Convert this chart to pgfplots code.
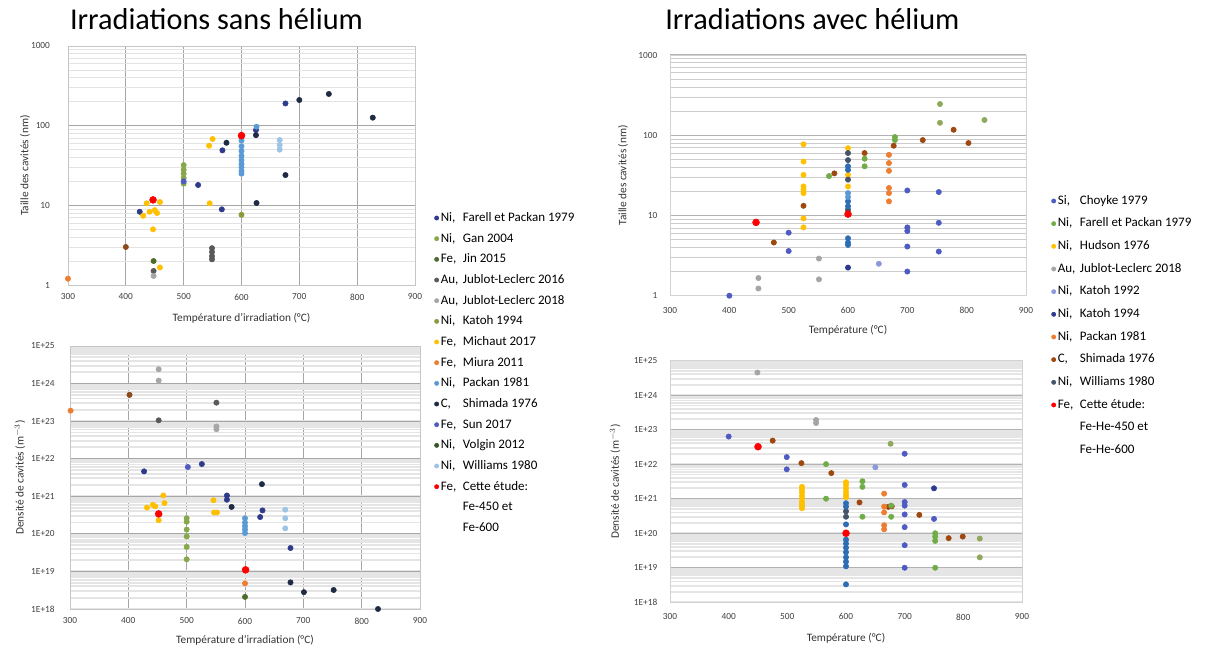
\documentclass[border=0pt]{standalone}
\usepackage{pgfplots}
\pgfplotsset{compat=1.18}
\usepackage{fontspec}
\setmainfont{Carlito}

% left panels
\definecolor{lFarell}{HTML}{2F3A8A}
\definecolor{lGan}{HTML}{86A84A}
\definecolor{lJin}{HTML}{4E6B2A}
\definecolor{lJubA}{HTML}{595959}
\definecolor{lJubB}{HTML}{A6A6A6}
\definecolor{lKatoh}{HTML}{8C9A3C}
\definecolor{lMichaut}{HTML}{FFC000}
\definecolor{lMiura}{HTML}{ED7D31}
\definecolor{lPackan}{HTML}{5B9BD5}
\definecolor{lShimada}{HTML}{1F2A44}
\definecolor{lSun}{HTML}{4F5BC0}
\definecolor{lVolgin}{HTML}{375623}
\definecolor{lWilliams}{HTML}{9DC3E6}
\definecolor{cRed}{HTML}{FF0000}
\definecolor{brn}{HTML}{8B4A1C}
% right panels
\definecolor{rChoyke}{HTML}{4E5BC2}
\definecolor{rFarell}{HTML}{70AD47}
\definecolor{rOlive}{HTML}{8FA85C}
\definecolor{rHudson}{HTML}{FFC000}
\definecolor{rJub}{HTML}{A5A5A5}
\definecolor{rKatohA}{HTML}{8E98DC}
\definecolor{rKatohB}{HTML}{2B3990}
\definecolor{rPackan}{HTML}{ED7D31}
\definecolor{rShimada}{HTML}{9E480E}
\definecolor{rWilliams}{HTML}{44546A}
\definecolor{rBlue}{HTML}{2E6DB4}
\definecolor{rLBlue}{HTML}{5B9BD5}

\newcommand\el[1]{\makebox[1.7em][l]{#1}}
\newcommand\tickfont{\fontsize{7}{8}\selectfont}
\newcommand\labfont{\fontsize{8.5}{10}\selectfont}

\pgfplotsset{
  pt/.style={only marks, mark=*, mark size=2pt, color=#1, forget plot},
  lg/.style={only marks, mark=*, mark size=1.6pt, color=#1},
}

\begin{document}
\begin{tikzpicture}
\useasboundingbox (0,0) rectangle (907.5pt,487.5pt);

% ---------- sans helium, taille ----------
\begin{axis}[at={(51pt,273.75pt)}, anchor=south west, scale only axis, clip=false,
  width=260.25pt, height=179.25pt, ymode=log,
  xmin=300, xmax=900, xtick={300,400,...,900},
  ymin=1, ymax=1000, ytick={1,10,100,1000}, yticklabels={1,10,100,1000},
  tick style={draw=none},
  ticklabel style={font=\tickfont, text=black!75},
  /pgf/number format/assume math mode=true,
  label style={font=\labfont, text=black!80},
  axis line style={gray!45},
  xmajorgrids, ymajorgrids, yminorgrids,
  major grid style={gray!70, line width=0.7pt},
  minor grid style={gray!22, line width=0.6pt},
  xlabel={Température d'irradiation (°C)},
  ylabel={Taille des cavités (nm)},
  xlabel style={at={(axis description cs:0.5,-0.138)}, anchor=center},
  ylabel style={at={(axis description cs:-0.124,0.5)}, anchor=center},
  yticklabel style={xshift=-10pt}, xticklabel style={yshift=-3pt},
  title={Irradiations sans hélium},
  title style={at={(axis description cs:0.005,1.08)}, anchor=west, inner sep=0pt, font=\fontsize{22.7}{26}\selectfont},
  legend image code/.code={\draw[mark repeat=2,mark phase=2,#1] plot coordinates {(0cm,0cm) (0.12cm,0cm) (0.24cm,0cm)};},
  legend style={at={(1.037,0.326)}, anchor=north west, draw=none, fill=none,
    font=\fontsize{9.75}{11}\selectfont, row sep=3.5pt,
    nodes={inner sep=1.5pt, text height=7pt, text depth=2pt}},
  legend cell align=left]
\addlegendimage{lg=lFarell}\addlegendentry{\el{Ni,}Farell et Packan 1979}
\addlegendimage{lg=lGan}\addlegendentry{\el{Ni,}Gan 2004}
\addlegendimage{lg=lJin}\addlegendentry{\el{Fe,}Jin 2015}
\addlegendimage{lg=lJubA}\addlegendentry{\el{Au,}Jublot-Leclerc 2016}
\addlegendimage{lg=lJubB}\addlegendentry{\el{Au,}Jublot-Leclerc 2018}
\addlegendimage{lg=lKatoh}\addlegendentry{\el{Ni,}Katoh 1994}
\addlegendimage{lg=lMichaut}\addlegendentry{\el{Fe,}Michaut 2017}
\addlegendimage{lg=lMiura}\addlegendentry{\el{Fe,}Miura 2011}
\addlegendimage{lg=lPackan}\addlegendentry{\el{Ni,}Packan 1981}
\addlegendimage{lg=lShimada}\addlegendentry{\el{C,}Shimada 1976}
\addlegendimage{lg=lSun}\addlegendentry{\el{Fe,}Sun 2017}
\addlegendimage{lg=lVolgin}\addlegendentry{\el{Ni,}Volgin 2012}
\addlegendimage{lg=lWilliams}\addlegendentry{\el{Ni,}Williams 1980}
\addlegendimage{lg=cRed}\addlegendentry{\el{Fe,}Cette étude:}
\addlegendimage{empty legend}\addlegendentry{\el{}Fe-450 et}
\addlegendimage{empty legend}\addlegendentry{\el{}Fe-600}

\addplot[pt=lMiura] coordinates {(300,1.2)};
\addplot[pt=brn] coordinates {(400,3.0)};
\addplot[pt=lFarell] coordinates {(424,8.3) (525,18) (567,49) (566,8.9) (625,88) (676,190)};
\addplot[pt=lMichaut] coordinates {(430,7.4) (436,10.6) (441,8.3) (450,8.7) (454,8.0) (459,11) (447,5.0) (459,1.66) (544,56) (550,68) (545,10.6)};
\addplot[pt=lJin] coordinates {(448,2.0)};
\addplot[pt=lJubA] coordinates {(448,1.5) (549,2.9) (549,2.6) (549,2.3) (549,2.1)};
\addplot[pt=lJubB] coordinates {(448,1.3)};
\addplot[pt=lGan] coordinates {(500,32) (500,28) (500,25) (500,22) (500,18.7)};
\addplot[pt=lSun] coordinates {(500,20)};
\addplot[pt=lShimada] coordinates {(574,61) (626,10.7) (676,24) (700,210) (751,250) (827,126) (625,76)};
\addplot[pt=lKatoh] coordinates {(600,7.6)};
\addplot[pt=lPackan] coordinates {(600,65) (600,55) (600,48) (600,42) (600,37) (600,33) (600,30) (600,27) (600,25) (626,97)};
\addplot[pt=lWilliams] coordinates {(666,66) (666,57) (666,50)};
\addplot[pt=cRed, mark size=2.6pt] coordinates {(447,11.7) (600,75)};
\end{axis}

% ---------- sans helium, densite ----------
\begin{axis}[at={(52.5pt,30.75pt)}, anchor=south west, scale only axis, clip=false,
  width=262.5pt, height=197.25pt, ymode=log,
  xmin=300, xmax=900, xtick={300,400,...,900},
  ymin=1e18, ymax=1e25,
  ytick={1e18,1e19,1e20,1e21,1e22,1e23,1e24,1e25},
  yticklabels={1E+18,1E+19,1E+20,1E+21,1E+22,1E+23,1E+24,1E+25},
  tick style={draw=none},
  ticklabel style={font=\tickfont, text=black!75},
  /pgf/number format/assume math mode=true,
  label style={font=\labfont, text=black!80},
  axis line style={gray!45},
  xmajorgrids, ymajorgrids, yminorgrids,
  major grid style={gray!70, line width=0.7pt},
  minor grid style={gray!20, line width=1.4pt},
  xlabel={Température d'irradiation (°C)},
  ylabel={Densité de cavités (m$^{-3}$)},
  xlabel style={at={(axis description cs:0.5,-0.12)}, anchor=center},
  ylabel style={at={(axis description cs:-0.143,0.5)}, anchor=center},
  yticklabel style={xshift=-8pt}, xticklabel style={yshift=-3pt}]
\addplot[pt=lMiura] coordinates {(301,1.9e23) (600,4.8e18)};
\addplot[pt=brn] coordinates {(402,5e23)};
\addplot[pt=lJubB] coordinates {(452,2.4e24) (452,1.2e24) (551,7.2e22) (551,6.1e22)};
\addplot[pt=lJubA] coordinates {(452,1.05e23) (551,3.1e23)};
\addplot[pt=lFarell] coordinates {(427,4.6e21) (526,7.2e21) (569,1.05e21) (569,8.1e20) (630,4.2e20) (626,2.8e20) (678,4.2e19)};
\addplot[pt=lShimada] coordinates {(577,5.2e20) (629,2.1e21) (678,5.1e18) (701,2.8e18) (752,3.2e18) (828,1e18)};
\addplot[pt=lSun] coordinates {(502,6e21)};
\addplot[pt=lMichaut] coordinates {(432,5e20) (442,5.9e20) (446,5.4e20) (460,1.05e21) (462,6.6e20) (452,2.3e20) (546,7.8e20) (547,3.7e20) (552,3.7e20)};
\addplot[pt=lGan] coordinates {(500,2.6e20) (500,2.1e20) (500,1.3e20) (500,8.5e19) (500,4.5e19) (500,2.1e19)};
\addplot[pt=lPackan] coordinates {(600,2.6e20) (600,2e20) (600,1.6e20) (600,1.3e20) (600,1.05e20)};
\addplot[pt=lJin] coordinates {(600,2.1e18)};
\addplot[pt=lWilliams] coordinates {(669,4.4e20) (669,2.6e20) (669,1.4e20)};
\addplot[pt=cRed, mark size=2.6pt] coordinates {(452,3.4e20) (601,1.1e19)};
\end{axis}

% ---------- avec helium, taille ----------
\begin{axis}[at={(502.5pt,265.725pt)}, anchor=south west, scale only axis, clip=false,
  width=267pt, height=180.5pt, ymode=log,
  xmin=300, xmax=900, xtick={300,400,...,900},
  ymin=1, ymax=1000, ytick={1,10,100,1000}, yticklabels={1,10,100,1000},
  tick style={draw=none},
  ticklabel style={font=\tickfont, text=black!75},
  /pgf/number format/assume math mode=true,
  label style={font=\labfont, text=black!80},
  axis line style={gray!35},
  ymajorgrids, yminorgrids,
  major grid style={gray!60, line width=0.8pt},
  minor grid style={gray!40, line width=0.5pt},
  xlabel={Température (°C)},
  ylabel={Taille des cavités (nm)},
  xlabel style={at={(axis description cs:0.5,-0.1425)}, anchor=center},
  ylabel style={at={(axis description cs:-0.132,0.5)}, anchor=center},
  yticklabel style={xshift=-6pt}, xticklabel style={yshift=-5pt},
  title={Irradiations avec hélium},
  title style={at={(axis description cs:-0.014,1.116)}, anchor=west, inner sep=0pt, font=\fontsize{22.7}{26}\selectfont},
  legend image code/.code={\draw[mark repeat=2,mark phase=2,#1] plot coordinates {(0cm,0cm) (0.12cm,0cm) (0.24cm,0cm)};},
  legend style={at={(1.053,0.439)}, anchor=north west, draw=none, fill=none,
    font=\fontsize{9.75}{11}\selectfont, row sep=5pt,
    nodes={inner sep=1.5pt, text height=7pt, text depth=2pt}},
  legend cell align=left]
\addlegendimage{lg=rChoyke}\addlegendentry{\el{Si,}Choyke 1979}
\addlegendimage{lg=rFarell}\addlegendentry{\el{Ni,}Farell et Packan 1979}
\addlegendimage{lg=rHudson}\addlegendentry{\el{Ni,}Hudson 1976}
\addlegendimage{lg=rJub}\addlegendentry{\el{Au,}Jublot-Leclerc 2018}
\addlegendimage{lg=rKatohA}\addlegendentry{\el{Ni,}Katoh 1992}
\addlegendimage{lg=rKatohB}\addlegendentry{\el{Ni,}Katoh 1994}
\addlegendimage{lg=rPackan}\addlegendentry{\el{Ni,}Packan 1981}
\addlegendimage{lg=rShimada}\addlegendentry{\el{C,}Shimada 1976}
\addlegendimage{lg=rWilliams}\addlegendentry{\el{Ni,}Williams 1980}
\addlegendimage{lg=cRed}\addlegendentry{\el{Fe,}Cette étude:}
\addlegendimage{empty legend}\addlegendentry{\el{}Fe-He-450 et}
\addlegendimage{empty legend}\addlegendentry{\el{}Fe-He-600}

\addplot[pt=rChoyke] coordinates {(400,1.0) (500,6.1) (500,3.6) (700,20.5) (700,7.1) (700,6.4) (700,4.1) (700,2.0) (753,19.6) (753,8.1) (753,3.55)};
\addplot[pt=rJub] coordinates {(449,1.23) (449,1.66) (551,2.9) (551,1.6)};
\addplot[pt=rShimada] coordinates {(475,4.6) (525,13.2) (577,33.5) (628,60) (677,74) (726,87) (778,117) (803,80)};
\addplot[pt=rHudson] coordinates {(525,77) (525,47) (525,32) (525,23) (525,21) (525,19) (525,9.2) (525,7.1) (600,69) (600,32) (600,23)};
\addplot[pt=rFarell] coordinates {(568,31) (628,51) (628,41) (679,95) (679,87)};
\addplot[pt=rOlive] coordinates {(755,245) (755,143) (830,155)};
\addplot[pt=rWilliams] coordinates {(600,60) (600,49) (600,28) (600,11.8)};
\addplot[pt=rBlue] coordinates {(600,41) (600,37) (600,15) (600,13) (600,5.2) (600,4.6) (600,4.3)};
\addplot[pt=rLBlue] coordinates {(600,19) (600,17)};
\addplot[pt=rKatohB] coordinates {(600,2.24)};
\addplot[pt=rKatohA] coordinates {(652,2.5)};
\addplot[pt=rPackan] coordinates {(669,57) (669,45) (669,36) (669,22) (669,19) (669,15)};
\addplot[pt=cRed, mark size=2.6pt] coordinates {(445,8.2) (600,10.4)};
\end{axis}

% ---------- avec helium, densite ----------
\begin{axis}[at={(502.5pt,35.775pt)}, anchor=south west, scale only axis, clip=false,
  width=264pt, height=181.3pt, ymode=log,
  xmin=300, xmax=900, xtick={300,400,...,900},
  ymin=1e18, ymax=1e25,
  ytick={1e18,1e19,1e20,1e21,1e22,1e23,1e24,1e25},
  yticklabels={1E+18,1E+19,1E+20,1E+21,1E+22,1E+23,1E+24,1E+25},
  tick style={draw=none},
  ticklabel style={font=\tickfont, text=black!75},
  /pgf/number format/assume math mode=true,
  label style={font=\labfont, text=black!80},
  axis line style={gray!35},
  ymajorgrids, yminorgrids,
  major grid style={gray!60, line width=0.8pt},
  minor grid style={gray!20, line width=1.4pt},
  xlabel={Température (°C)},
  ylabel={Densité de cavités (m$^{-3}$)},
  xlabel style={at={(axis description cs:0.5,-0.148)}, anchor=center},
  ylabel style={at={(axis description cs:-0.156,0.5)}, anchor=center},
  yticklabel style={xshift=-6pt}, xticklabel style={yshift=-5pt}]
\addplot[pt=rJub] coordinates {(449,4.5e24) (549,1.9e23) (549,1.55e23)};
\addplot[pt=rChoyke] coordinates {(400,6.3e22) (499,1.6e22) (499,7.1e21) (700,2e22) (700,2.5e21) (700,8e20) (700,6.3e20) (700,3.5e20) (700,1.5e20) (700,4.5e19) (700,1e19) (750,2.6e20)};
\addplot[pt=rShimada] coordinates {(475,4.8e22) (524,1.07e22) (575,5.5e21) (623,7.8e20) (672,5.8e20) (678,6e20) (725,3.4e20) (775,7.2e19) (799,8e19)};
\addplot[pt=rFarell] coordinates {(566,1e22) (566,1e21) (628,3.2e21) (628,2.2e21) (628,3e20) (677,6.3e20) (677,3e20) (752,1e20) (752,8e19) (752,6e19) (752,1e19)};
\addplot[pt=rOlive] coordinates {(676,3.9e22) (828,7e19) (828,2e19)};
\addplot[pt=rHudson] coordinates {(525,2.2e21) (525,1.8e21) (525,1.5e21) (525,1.2e21) (525,1e21) (525,8e20) (525,7e20) (525,6e20) (525,5.3e20) (600,3e21) (600,2.5e21) (600,2e21) (600,1.6e21) (600,1.3e21) (600,1.1e21)};
\addplot[pt=rWilliams] coordinates {(600,4.3e20) (600,3e20)};
\addplot[pt=rBlue] coordinates {(600,7.4e20) (600,5.9e20) (600,1.8e20) (600,6.5e19) (600,5e19) (600,3.8e19) (600,2.8e19) (600,2e19) (600,1.5e19) (600,1.1e19) (600,3.3e18)};
\addplot[pt=rKatohA] coordinates {(650,8.1e21)};
\addplot[pt=rKatohB] coordinates {(750,2e21)};
\addplot[pt=rPackan] coordinates {(665,1.4e21) (665,5.9e20) (665,4e20) (665,1.7e20) (665,1.3e20)};
\addplot[pt=cRed, mark size=2.6pt] coordinates {(450,3.2e22) (600,1e20)};
\end{axis}
\end{tikzpicture}
\end{document}
